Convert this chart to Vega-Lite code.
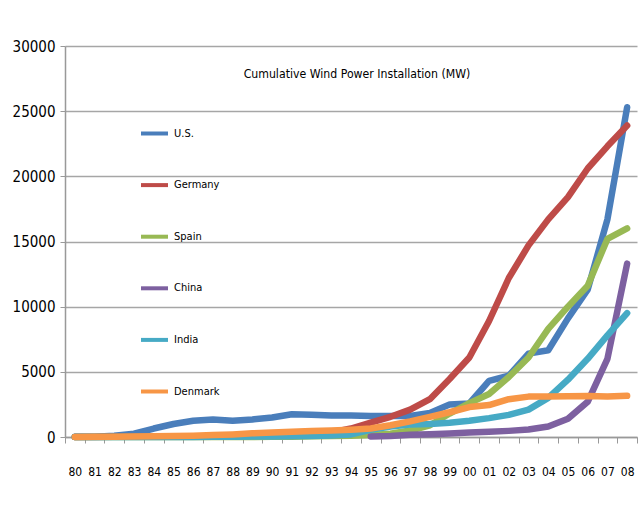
{
  "$schema": "https://vega.github.io/schema/vega-lite/v6.json",
  "width": 572,
  "height": 391,
  "autosize": {"type": "none"},
  "padding": {"left": 65, "top": 46, "right": 3, "bottom": 94},
  "background": "white",
  "title": {
    "text": "Cumulative Wind Power Installation (MW)",
    "font": "DejaVu Sans Condensed",
    "fontSize": 12.2,
    "fontWeight": "normal",
    "color": "black",
    "anchor": "middle",
    "baseline": "middle",
    "offset": -26,
    "dy": 21,
    "dx": 6
  },
  "data": {
    "values": [
      {"year": "80", "country": "U.S.", "mw": 10}, {"year": "81", "country": "U.S.", "mw": 20}, {"year": "82", "country": "U.S.", "mw": 90}, {"year": "83", "country": "U.S.", "mw": 250}, {"year": "84", "country": "U.S.", "mw": 650}, {"year": "85", "country": "U.S.", "mw": 1000}, {"year": "86", "country": "U.S.", "mw": 1250}, {"year": "87", "country": "U.S.", "mw": 1350}, {"year": "88", "country": "U.S.", "mw": 1250}, {"year": "89", "country": "U.S.", "mw": 1350}, {"year": "90", "country": "U.S.", "mw": 1500}, {"year": "91", "country": "U.S.", "mw": 1750}, {"year": "92", "country": "U.S.", "mw": 1700}, {"year": "93", "country": "U.S.", "mw": 1650}, {"year": "94", "country": "U.S.", "mw": 1650}, {"year": "95", "country": "U.S.", "mw": 1620}, {"year": "96", "country": "U.S.", "mw": 1620}, {"year": "97", "country": "U.S.", "mw": 1620}, {"year": "98", "country": "U.S.", "mw": 1850}, {"year": "99", "country": "U.S.", "mw": 2500}, {"year": "00", "country": "U.S.", "mw": 2570}, {"year": "01", "country": "U.S.", "mw": 4300}, {"year": "02", "country": "U.S.", "mw": 4700}, {"year": "03", "country": "U.S.", "mw": 6400}, {"year": "04", "country": "U.S.", "mw": 6650}, {"year": "05", "country": "U.S.", "mw": 9100}, {"year": "06", "country": "U.S.", "mw": 11300}, {"year": "07", "country": "U.S.", "mw": 16700}, {"year": "08", "country": "U.S.", "mw": 25300},
      {"year": "80", "country": "Germany", "mw": 0}, {"year": "81", "country": "Germany", "mw": 5}, {"year": "82", "country": "Germany", "mw": 10}, {"year": "83", "country": "Germany", "mw": 15}, {"year": "84", "country": "Germany", "mw": 20}, {"year": "85", "country": "Germany", "mw": 30}, {"year": "86", "country": "Germany", "mw": 40}, {"year": "87", "country": "Germany", "mw": 50}, {"year": "88", "country": "Germany", "mw": 60}, {"year": "89", "country": "Germany", "mw": 80}, {"year": "90", "country": "Germany", "mw": 100}, {"year": "91", "country": "Germany", "mw": 150}, {"year": "92", "country": "Germany", "mw": 200}, {"year": "93", "country": "Germany", "mw": 350}, {"year": "94", "country": "Germany", "mw": 650}, {"year": "95", "country": "Germany", "mw": 1100}, {"year": "96", "country": "Germany", "mw": 1550}, {"year": "97", "country": "Germany", "mw": 2100}, {"year": "98", "country": "Germany", "mw": 2900}, {"year": "99", "country": "Germany", "mw": 4450}, {"year": "00", "country": "Germany", "mw": 6100}, {"year": "01", "country": "Germany", "mw": 8900}, {"year": "02", "country": "Germany", "mw": 12200}, {"year": "03", "country": "Germany", "mw": 14700}, {"year": "04", "country": "Germany", "mw": 16700}, {"year": "05", "country": "Germany", "mw": 18400}, {"year": "06", "country": "Germany", "mw": 20600}, {"year": "07", "country": "Germany", "mw": 22300}, {"year": "08", "country": "Germany", "mw": 23900},
      {"year": "80", "country": "Spain", "mw": 0}, {"year": "81", "country": "Spain", "mw": 0}, {"year": "82", "country": "Spain", "mw": 0}, {"year": "83", "country": "Spain", "mw": 0}, {"year": "84", "country": "Spain", "mw": 0}, {"year": "85", "country": "Spain", "mw": 0}, {"year": "86", "country": "Spain", "mw": 0}, {"year": "87", "country": "Spain", "mw": 0}, {"year": "88", "country": "Spain", "mw": 0}, {"year": "89", "country": "Spain", "mw": 5}, {"year": "90", "country": "Spain", "mw": 10}, {"year": "91", "country": "Spain", "mw": 20}, {"year": "92", "country": "Spain", "mw": 50}, {"year": "93", "country": "Spain", "mw": 70}, {"year": "94", "country": "Spain", "mw": 100}, {"year": "95", "country": "Spain", "mw": 150}, {"year": "96", "country": "Spain", "mw": 250}, {"year": "97", "country": "Spain", "mw": 500}, {"year": "98", "country": "Spain", "mw": 900}, {"year": "99", "country": "Spain", "mw": 1800}, {"year": "00", "country": "Spain", "mw": 2600}, {"year": "01", "country": "Spain", "mw": 3300}, {"year": "02", "country": "Spain", "mw": 4600}, {"year": "03", "country": "Spain", "mw": 6100}, {"year": "04", "country": "Spain", "mw": 8300}, {"year": "05", "country": "Spain", "mw": 10000}, {"year": "06", "country": "Spain", "mw": 11600}, {"year": "07", "country": "Spain", "mw": 15200}, {"year": "08", "country": "Spain", "mw": 16000},
      {"year": "95", "country": "China", "mw": 40}, {"year": "96", "country": "China", "mw": 80}, {"year": "97", "country": "China", "mw": 170}, {"year": "98", "country": "China", "mw": 220}, {"year": "99", "country": "China", "mw": 270}, {"year": "00", "country": "China", "mw": 350}, {"year": "01", "country": "China", "mw": 400}, {"year": "02", "country": "China", "mw": 470}, {"year": "03", "country": "China", "mw": 570}, {"year": "04", "country": "China", "mw": 800}, {"year": "05", "country": "China", "mw": 1400}, {"year": "06", "country": "China", "mw": 2700}, {"year": "07", "country": "China", "mw": 6000}, {"year": "08", "country": "China", "mw": 13300},
      {"year": "80", "country": "India", "mw": 0}, {"year": "81", "country": "India", "mw": 0}, {"year": "82", "country": "India", "mw": 0}, {"year": "83", "country": "India", "mw": 0}, {"year": "84", "country": "India", "mw": 0}, {"year": "85", "country": "India", "mw": 0}, {"year": "86", "country": "India", "mw": 0}, {"year": "87", "country": "India", "mw": 10}, {"year": "88", "country": "India", "mw": 20}, {"year": "89", "country": "India", "mw": 30}, {"year": "90", "country": "India", "mw": 40}, {"year": "91", "country": "India", "mw": 50}, {"year": "92", "country": "India", "mw": 80}, {"year": "93", "country": "India", "mw": 120}, {"year": "94", "country": "India", "mw": 200}, {"year": "95", "country": "India", "mw": 550}, {"year": "96", "country": "India", "mw": 800}, {"year": "97", "country": "India", "mw": 950}, {"year": "98", "country": "India", "mw": 1000}, {"year": "99", "country": "India", "mw": 1100}, {"year": "00", "country": "India", "mw": 1250}, {"year": "01", "country": "India", "mw": 1450}, {"year": "02", "country": "India", "mw": 1700}, {"year": "03", "country": "India", "mw": 2100}, {"year": "04", "country": "India", "mw": 3000}, {"year": "05", "country": "India", "mw": 4400}, {"year": "06", "country": "India", "mw": 6000}, {"year": "07", "country": "India", "mw": 7800}, {"year": "08", "country": "India", "mw": 9500},
      {"year": "80", "country": "Denmark", "mw": 5}, {"year": "81", "country": "Denmark", "mw": 10}, {"year": "82", "country": "Denmark", "mw": 20}, {"year": "83", "country": "Denmark", "mw": 30}, {"year": "84", "country": "Denmark", "mw": 50}, {"year": "85", "country": "Denmark", "mw": 70}, {"year": "86", "country": "Denmark", "mw": 100}, {"year": "87", "country": "Denmark", "mw": 150}, {"year": "88", "country": "Denmark", "mw": 200}, {"year": "89", "country": "Denmark", "mw": 280}, {"year": "90", "country": "Denmark", "mw": 340}, {"year": "91", "country": "Denmark", "mw": 410}, {"year": "92", "country": "Denmark", "mw": 460}, {"year": "93", "country": "Denmark", "mw": 500}, {"year": "94", "country": "Denmark", "mw": 560}, {"year": "95", "country": "Denmark", "mw": 650}, {"year": "96", "country": "Denmark", "mw": 900}, {"year": "97", "country": "Denmark", "mw": 1200}, {"year": "98", "country": "Denmark", "mw": 1550}, {"year": "99", "country": "Denmark", "mw": 1900}, {"year": "00", "country": "Denmark", "mw": 2300}, {"year": "01", "country": "Denmark", "mw": 2450}, {"year": "02", "country": "Denmark", "mw": 2900}, {"year": "03", "country": "Denmark", "mw": 3100}, {"year": "04", "country": "Denmark", "mw": 3100}, {"year": "05", "country": "Denmark", "mw": 3120}, {"year": "06", "country": "Denmark", "mw": 3140}, {"year": "07", "country": "Denmark", "mw": 3100}, {"year": "08", "country": "Denmark", "mw": 3160}
    ]
  },
  "encoding": {
    "x": {
      "field": "year",
      "type": "ordinal",
      "sort": null,
      "scale": {"type": "band", "paddingInner": 0, "paddingOuter": 0},
      "axis": {
        "title": null,
        "labelAngle": 0,
        "labelFont": "DejaVu Sans Condensed",
        "labelFontSize": 12,
        "labelColor": "black",
        "labelPadding": 23,
        "tickBand": "extent",
        "tickSize": 6,
        "tickColor": "#999999",
        "domainColor": "#999999",
        "domainWidth": 1.5,
        "grid": false
      }
    },
    "y": {
      "field": "mw",
      "type": "quantitative",
      "scale": {"domain": [0, 30000], "nice": false},
      "axis": {
        "title": null,
        "values": [0, 5000, 10000, 15000, 20000, 25000, 30000],
        "format": "d",
        "labelFont": "DejaVu Sans Condensed",
        "labelFontSize": 15,
        "labelColor": "black",
        "labelPadding": 5,
        "tickSize": 5,
        "tickColor": "#999999",
        "domainColor": "#999999",
        "domainWidth": 1.5,
        "grid": true,
        "gridColor": "#a6a6a6",
        "gridWidth": 1.5
      }
    },
    "color": {
      "field": "country",
      "type": "nominal",
      "scale": {
        "domain": ["U.S.", "Germany", "Spain", "China", "India", "Denmark"],
        "range": ["#4a7ebb", "#be4b48", "#98b954", "#7d60a0", "#46aac5", "#f79646"]
      },
      "legend": {
        "title": null,
        "orient": "none",
        "legendX": 74,
        "legendY": 72,
        "symbolType": "stroke",
        "symbolSize": 729,
        "symbolStrokeWidth": 4,
        "rowPadding": 27.6,
        "labelOffset": 4,
        "labelFont": "DejaVu Sans Condensed",
        "labelFontSize": 11,
        "labelColor": "black"
      }
    }
  },
  "layer": [
    {"transform": [{"filter": "datum.country === 'U.S.'"}], "mark": {"type": "line", "strokeWidth": 6.5, "strokeCap": "round", "strokeJoin": "round"}},
    {"transform": [{"filter": "datum.country === 'Germany'"}], "mark": {"type": "line", "strokeWidth": 6.5, "strokeCap": "round", "strokeJoin": "round"}},
    {"transform": [{"filter": "datum.country === 'Spain'"}], "mark": {"type": "line", "strokeWidth": 6.5, "strokeCap": "round", "strokeJoin": "round"}},
    {"transform": [{"filter": "datum.country === 'China'"}], "mark": {"type": "line", "strokeWidth": 6.5, "strokeCap": "round", "strokeJoin": "round"}},
    {"transform": [{"filter": "datum.country === 'India'"}], "mark": {"type": "line", "strokeWidth": 6.5, "strokeCap": "round", "strokeJoin": "round"}},
    {"transform": [{"filter": "datum.country === 'Denmark'"}], "mark": {"type": "line", "strokeWidth": 6.5, "strokeCap": "round", "strokeJoin": "round"}}
  ],
  "config": {"view": {"stroke": null}}
}
